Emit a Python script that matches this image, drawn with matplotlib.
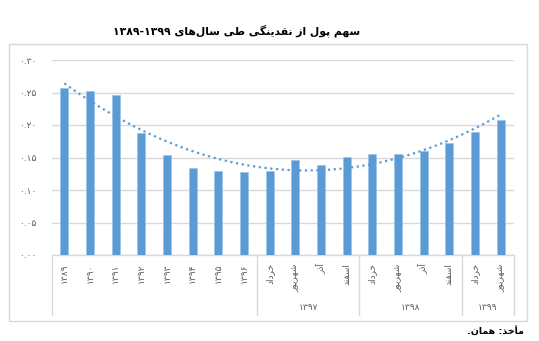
import re
import numpy as np
import matplotlib
matplotlib.use("Agg")
import matplotlib.pyplot as plt
from matplotlib.patches import Rectangle
import matplotlib.transforms as mtransforms

plt.rcParams['font.family'] = ['DejaVu Sans']

# ---- data -------------------------------------------------------------
annual_years = ['1389', '1390', '1391', '1392', '1393', '1394', '1395', '1396']
group_years = ['1397', '1398', '1399']
group_months = [
    ['خرداد', 'شهریور', 'آذر', 'اسفند'],
    ['خرداد', 'شهریور', 'آذر', 'اسفند'],
    ['خرداد', 'شهریور'],
]
money_share = [0.257, 0.253, 0.246, 0.187, 0.154, 0.134, 0.130, 0.127,
               0.130, 0.146, 0.138, 0.151,
               0.156, 0.156, 0.160, 0.173,
               0.189, 0.207]
y_ticks = [0.00, 0.05, 0.10, 0.15, 0.20, 0.25, 0.30]

title_text = 'سهم پول از نقدینگی طی سال‌های 1389-1399'
source_text = 'مأخذ: همان.'

BAR_COLOR = '#5B9BD5'
GRID_COLOR = '#D9D9D9'
TEXT_GREY = '#595959'

# ---- minimal Arabic/Persian shaping for matplotlib ----------------------
# (isolated, final, initial, medial); right-joining letters have no initial/medial
FORMS = {
    'ا': ('\uFE8D', '\uFE8E', None, None),
    'أ': ('\uFE83', '\uFE84', None, None),
    'آ': ('\uFE81', '\uFE82', None, None),
    'د': ('\uFEA9', '\uFEAA', None, None),
    'ذ': ('\uFEAB', '\uFEAC', None, None),
    'ر': ('\uFEAD', '\uFEAE', None, None),
    'ز': ('\uFEAF', '\uFEB0', None, None),
    'و': ('\uFEED', '\uFEEE', None, None),
    'ب': ('\uFE8F', '\uFE90', '\uFE91', '\uFE92'),
    'پ': ('\uFB56', '\uFB57', '\uFB58', '\uFB59'),
    'ت': ('\uFE95', '\uFE96', '\uFE97', '\uFE98'),
    'خ': ('\uFEA5', '\uFEA6', '\uFEA7', '\uFEA8'),
    'س': ('\uFEB1', '\uFEB2', '\uFEB3', '\uFEB4'),
    'ش': ('\uFEB5', '\uFEB6', '\uFEB7', '\uFEB8'),
    'ط': ('\uFEC1', '\uFEC2', '\uFEC3', '\uFEC4'),
    'ف': ('\uFED1', '\uFED2', '\uFED3', '\uFED4'),
    'ق': ('\uFED5', '\uFED6', '\uFED7', '\uFED8'),
    'گ': ('\uFB92', '\uFB93', '\uFB94', '\uFB95'),
    'ل': ('\uFEDD', '\uFEDE', '\uFEDF', '\uFEE0'),
    'م': ('\uFEE1', '\uFEE2', '\uFEE3', '\uFEE4'),
    'ن': ('\uFEE5', '\uFEE6', '\uFEE7', '\uFEE8'),
    'ه': ('\uFEE9', '\uFEEA', '\uFEEB', '\uFEEC'),
    'ی': ('\uFBFC', '\uFBFD', '\uFBFE', '\uFBFF'),
}
FA_DIGITS = str.maketrans('0123456789', '۰۱۲۳۴۵۶۷۸۹')


def dual(ch):
    return ch in FORMS and FORMS[ch][2] is not None


def rtl(text):
    text = text.translate(FA_DIGITS)
    out = []
    for i, ch in enumerate(text):
        if ch not in FORMS:
            if ch != '\u200c':
                out.append(ch)
            continue
        prev = text[i - 1] if i > 0 else ''
        nxt = text[i + 1] if i + 1 < len(text) else ''
        j_prev = dual(prev)
        j_next = dual(ch) and nxt in FORMS
        iso, fin, ini, med = FORMS[ch]
        if j_prev and j_next:
            out.append(med)
        elif j_prev:
            out.append(fin)
        elif j_next:
            out.append(ini)
        else:
            out.append(iso)
    vis = ''.join(out)[::-1]
    # number runs keep left-to-right order
    return re.sub(r'[۰-۹][۰-۹.\-]*[۰-۹]|[۰-۹]', lambda m: m.group(0)[::-1], vis)


# ---- figure ------------------------------------------------------------
W, H = 539, 341
fig = plt.figure(figsize=(W / 100, H / 100), dpi=100)
fig.patch.set_facecolor('white')

# chart frame
fig.patches.append(Rectangle((9 / W, 1 - 321 / H), 518 / W, 277 / H,
                             transform=fig.transFigure, fill=False,
                             edgecolor=GRID_COLOR, linewidth=1.0))

ax = fig.add_axes([51.5 / W, 1 - 255 / H, 462 / W, 195 / H])

first_level = [y.translate(FA_DIGITS) for y in annual_years]
for months in group_months:
    first_level += [rtl(m) for m in months]
n = len(money_share)
x = np.arange(n)

ax.bar(x, money_share, width=0.31, color=BAR_COLOR,
       edgecolor='#9DC3E6', linewidth=0.5, zorder=3)

# second-order polynomial trend line
xs = np.arange(1, n + 1)
coef = np.polyfit(xs, money_share, 2)
xf = np.linspace(1, n, 200)
ax.plot(xf - 1, np.polyval(coef, xf), linestyle=(0, (1, 1.6)),
        color=BAR_COLOR, linewidth=1.6, zorder=4)

ax.set_xlim(-0.5, n - 0.5)
ax.set_ylim(0, 0.30)
ax.set_yticks(y_ticks)
ax.set_yticklabels([f'{v:.2f}'.translate(FA_DIGITS) for v in y_ticks],
                   fontsize=6.5, color=TEXT_GREY)
ax.tick_params(axis='y', length=0, pad=11)
ax.yaxis.grid(True, color=GRID_COLOR, linewidth=1.0, zorder=0)
ax.set_axisbelow(True)
for side in ['top', 'right', 'left']:
    ax.spines[side].set_visible(False)
ax.spines['bottom'].set_color(GRID_COLOR)
ax.spines['bottom'].set_linewidth(1.0)

ax.set_xticks(x)
ax.set_xticklabels(first_level, rotation=90, fontsize=6.5, color=TEXT_GREY,
                   va='top', ha='center')
ax.tick_params(axis='x', length=0, pad=6)

# multi-level category axis: group separators and group labels
trans = mtransforms.blended_transform_factory(ax.transData, ax.transAxes)
sep_depth = -60 / 195
label_y = -52 / 195
bounds = [len(annual_years)]
for months in group_months:
    bounds.append(bounds[-1] + len(months))
edges = [0] + bounds
for e in edges:
    ax.plot([e - 0.5, e - 0.5], [0, sep_depth], transform=trans,
            color=GRID_COLOR, linewidth=1.0, clip_on=False)
for gy, a, b in zip(group_years, bounds[:-1], bounds[1:]):
    ax.text((a + b - 1) / 2, label_y, gy.translate(FA_DIGITS), transform=trans,
            ha='center', va='center', fontsize=6.5, color=TEXT_GREY)

fig.text(237 / W, 1 - 31 / H, rtl(title_text), ha='center', va='center',
         fontsize=7.8, fontweight='bold', color='black')
fig.text(524 / W, 1 - 331 / H, rtl(source_text), ha='right', va='center',
         fontsize=6.8, fontweight='bold', color='black')

fig.savefig('out.png', dpi=100, facecolor='white')
